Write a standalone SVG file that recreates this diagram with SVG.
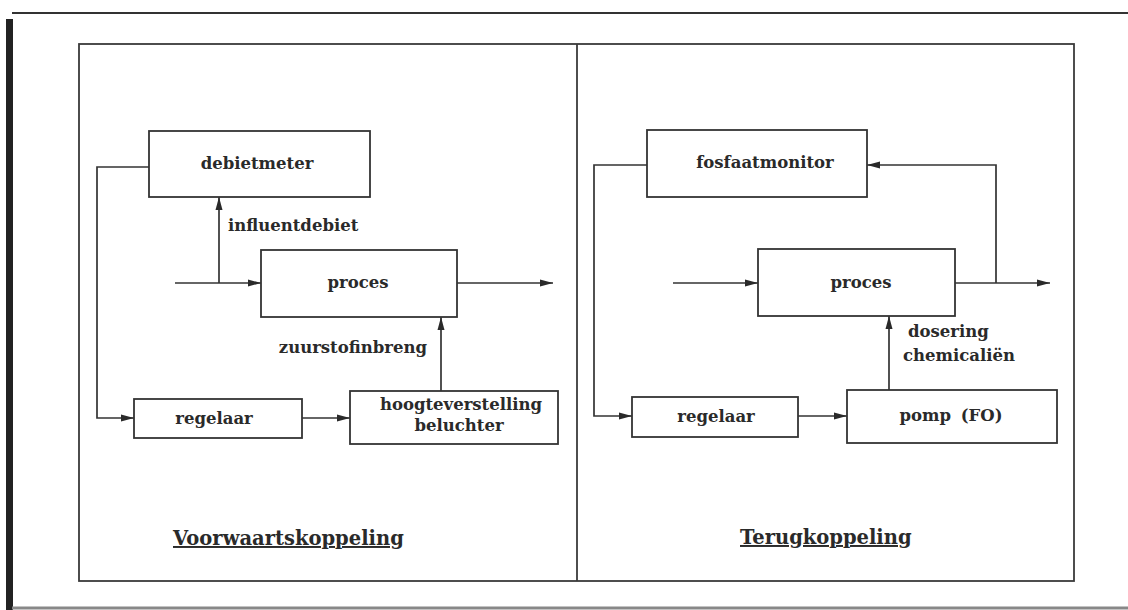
<svg xmlns="http://www.w3.org/2000/svg" width="1128" height="610" viewBox="0 0 1128 610">
<style>
.box{fill:#fff;stroke:#333;stroke-width:1.8}
.ln{fill:none;stroke:#333;stroke-width:1.7}
.fr{fill:none;stroke:#3a3a3a;stroke-width:1.8}
text{font-family:"DejaVu Serif","Liberation Serif",serif;font-weight:bold;fill:#2a2a2a}
.lb{font-size:16.5px}
.tl{font-size:19.5px;text-decoration:underline}
</style>
<defs>
<marker id="ah" markerUnits="userSpaceOnUse" markerWidth="13" markerHeight="9" refX="13" refY="4.5" orient="auto">
<path d="M0,1 L13,4.5 L0,8 Z" fill="#2a2a2a"/>
</marker>
</defs>
<rect width="1128" height="610" fill="#fff"/>
<g id="frame">
<line x1="12" y1="13" x2="1128" y2="13" stroke="#333" stroke-width="2.2"/>
<rect x="6" y="19" width="7" height="591" fill="#222"/>
<line x1="12" y1="608" x2="1128" y2="608" stroke="#888" stroke-width="3"/>
<rect class="fr" x="79" y="44" width="995" height="537"/>
<line class="fr" x1="577" y1="44" x2="577" y2="581"/>
</g>
<g id="connectors">
<path class="ln" d="M175,283 H261" marker-end="url(#ah)"/>
<path class="ln" d="M219,283 V197" marker-end="url(#ah)"/>
<path class="ln" d="M457,283 H553" marker-end="url(#ah)"/>
<path class="ln" d="M149,167 H97 V418 H134" marker-end="url(#ah)"/>
<path class="ln" d="M302,418 H350" marker-end="url(#ah)"/>
<path class="ln" d="M441,391 V317" marker-end="url(#ah)"/>
<path class="ln" d="M673,283 H758" marker-end="url(#ah)"/>
<path class="ln" d="M955,283 H1050" marker-end="url(#ah)"/>
<path class="ln" d="M996,283 V165 H867" marker-end="url(#ah)"/>
<path class="ln" d="M647,165 H594 V416 H632" marker-end="url(#ah)"/>
<path class="ln" d="M798,416 H847" marker-end="url(#ah)"/>
<path class="ln" d="M889,390 V316" marker-end="url(#ah)"/>
</g>
<g id="labels">
<text class="lb" x="228" y="231">influentdebiet</text>
<text class="lb" x="427" y="353" text-anchor="end">zuurstofinbreng</text>
<text class="lb" x="908" y="337">dosering</text>
<text class="lb" x="903" y="361">chemicaliën</text>
</g>
<g id="debietmeter">
<rect class="box" x="149" y="131" width="221" height="66"/>
<text class="lb" x="257" y="169" text-anchor="middle">debietmeter</text>
</g>
<g id="proces-links">
<rect class="box" x="261" y="250" width="196" height="67"/>
<text class="lb" x="358" y="288" text-anchor="middle">proces</text>
</g>
<g id="regelaar-links">
<rect class="box" x="134" y="399" width="168" height="39"/>
<text class="lb" x="214" y="424" text-anchor="middle">regelaar</text>
</g>
<g id="hoogteverstelling">
<rect class="box" x="350" y="391" width="208" height="53"/>
<text class="lb" x="461" y="410" text-anchor="middle">hoogteverstelling</text>
<text class="lb" x="459" y="431" text-anchor="middle">beluchter</text>
</g>
<g id="fosfaatmonitor">
<rect class="box" x="647" y="130" width="220" height="67"/>
<text class="lb" x="765" y="168" text-anchor="middle">fosfaatmonitor</text>
</g>
<g id="proces-rechts">
<rect class="box" x="758" y="249" width="197" height="67"/>
<text class="lb" x="861" y="288" text-anchor="middle">proces</text>
</g>
<g id="regelaar-rechts">
<rect class="box" x="632" y="397" width="166" height="40"/>
<text class="lb" x="716" y="422" text-anchor="middle">regelaar</text>
</g>
<g id="pomp">
<rect class="box" x="847" y="390" width="210" height="53"/>
<text class="lb" x="951" y="421" text-anchor="middle" word-spacing="4">pomp (FO)</text>
</g>
<g id="titels">
<text class="tl" x="173" y="545">Voorwaartskoppeling</text>
<text class="tl" x="740" y="544">Terugkoppeling</text>
</g>
</svg>
